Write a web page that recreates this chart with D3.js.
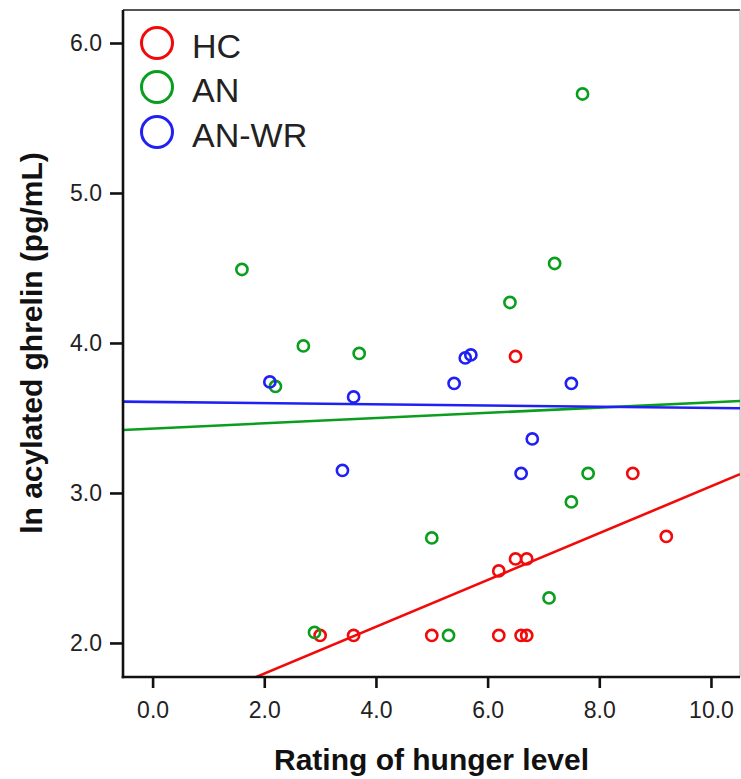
<!DOCTYPE html>
<html>
<head>
<meta charset="utf-8">
<script src="https://cdn.jsdelivr.net/npm/d3@7"></script>
<style>
  html, body { margin: 0; padding: 0; background: #fff; }
  svg { display: block; }
  text { font-family: "Liberation Sans", Arial, sans-serif; }
</style>
</head>
<body>
<svg id="chart" width="741" height="779"></svg>
<script>
// ---- data ----
const groups = ["HC", "AN", "AN-WR"];
const groupColors = ["#f20a0a", "#0a9e1e", "#2020f5"];

const hcX = [3.0, 3.6, 5.0, 6.2, 6.6, 6.7, 6.2, 6.5, 6.7, 6.5, 8.6, 9.2];
const hcY = [2.05, 2.05, 2.05, 2.05, 2.05, 2.05, 2.48, 2.56, 2.56, 3.91, 3.13, 2.71];

const anX = [1.6, 2.2, 2.7, 3.7, 2.9, 5.0, 5.3, 6.4, 7.2, 7.7, 7.5, 7.8, 7.1];
const anY = [4.49, 3.71, 3.98, 3.93, 2.07, 2.70, 2.05, 4.27, 4.53, 5.66, 2.94, 3.13, 2.30];

const anwrX = [2.1, 3.6, 3.4, 5.4, 5.6, 5.7, 7.5, 6.8, 6.6];
const anwrY = [3.74, 3.64, 3.15, 3.73, 3.90, 3.92, 3.73, 3.36, 3.13];

// fit lines: value at left and right edge of the x domain
const fitStartY = [1.401, 3.420, 3.609];
const fitEndY   = [3.125, 3.613, 3.565];

const xDomain = [-0.53, 10.52];
const yDomain = [1.773, 6.22];
const xTicks = [0, 2, 4, 6, 8, 10];
const yTicks = [2, 3, 4, 5, 6];
const xTitle = "Rating of hunger level";
const yTitle = "ln acylated ghrelin (pg/mL)";

// ---- layout ----
const svg = d3.select("#chart");
const L = 123, R = 740, T = 10, B = 677;

const x = d3.scaleLinear().domain(xDomain).range([L, R]);
const y = d3.scaleLinear().domain(yDomain).range([B, T]);

svg.append("defs").append("clipPath").attr("id", "plotclip")
  .append("rect").attr("x", L).attr("y", T).attr("width", R - L).attr("height", B - T);

// frame top/right
svg.append("line").attr("x1", L).attr("x2", R).attr("y1", T).attr("y2", T)
  .attr("stroke", "#555").attr("stroke-width", 2);
svg.append("line").attr("x1", R).attr("x2", R).attr("y1", T).attr("y2", B)
  .attr("stroke", "#aaa").attr("stroke-width", 1);

const series = [
  { xs: hcX, ys: hcY },
  { xs: anX, ys: anY },
  { xs: anwrX, ys: anwrY }
];

const plot = svg.append("g").attr("clip-path", "url(#plotclip)");

// fit lines
series.forEach((s, i) => {
  plot.append("line")
    .attr("x1", x(xDomain[0])).attr("y1", y(fitStartY[i]))
    .attr("x2", x(xDomain[1])).attr("y2", y(fitEndY[i]))
    .attr("stroke", groupColors[i]).attr("stroke-width", 2.6);
});

// points
series.forEach((s, i) => {
  plot.selectAll(null).data(s.xs.map((v, k) => [v, s.ys[k]])).enter()
    .append("circle")
    .attr("cx", d => x(d[0])).attr("cy", d => y(d[1]))
    .attr("r", 5.6)
    .attr("fill", "none")
    .attr("stroke", groupColors[i])
    .attr("stroke-width", 2.6);
});

// axes
const xAxis = d3.axisBottom(x).tickValues(xTicks).tickFormat(d3.format(".1f"))
  .tickSizeOuter(0).tickSizeInner(11).tickPadding(14);
const yAxis = d3.axisLeft(y).tickValues(yTicks).tickFormat(d3.format(".1f"))
  .tickSizeOuter(0).tickSizeInner(13).tickPadding(8);

const gx = svg.append("g").attr("transform", `translate(0,${B})`).call(xAxis);
const gy = svg.append("g").attr("transform", `translate(${L},0)`).call(yAxis);

[gx, gy].forEach(g => {
  g.select(".domain").attr("stroke", "#111").attr("stroke-width", 2.6);
  g.selectAll(".tick line").attr("stroke", "#111").attr("stroke-width", 2.6);
  g.selectAll(".tick text").attr("fill", "#222")
    .style("font-family", "'Liberation Sans', Arial, sans-serif")
    .style("font-size", "23px");
});
// extend x domain to meet y axis
gx.select(".domain").attr("d", `M${L - 1.3},0H${R}`);
gy.select(".domain").attr("d", `M0,${B + 1.3}V${T}`);

// titles
svg.append("text")
  .attr("x", (L + R) / 2 - 0).attr("y", 770)
  .attr("text-anchor", "middle")
  .style("font-size", "30px").style("font-weight", "bold").attr("fill", "#111")
  .text(xTitle);

svg.append("text")
  .attr("transform", `translate(42,343) rotate(-90)`)
  .attr("text-anchor", "middle")
  .style("font-size", "30px").style("font-weight", "bold").attr("fill", "#111")
  .text(yTitle);

// legend
const legendY = [43, 87, 132];
groups.forEach((g, i) => {
  svg.append("circle").attr("cx", 157).attr("cy", legendY[i]).attr("r", 15.5)
    .attr("fill", "none").attr("stroke", groupColors[i]).attr("stroke-width", 3);
  svg.append("text").attr("x", 192).attr("y", legendY[i] + 15)
    .style("font-size", "34px").attr("fill", "#222").text(g);
});
</script>
</body>
</html>
